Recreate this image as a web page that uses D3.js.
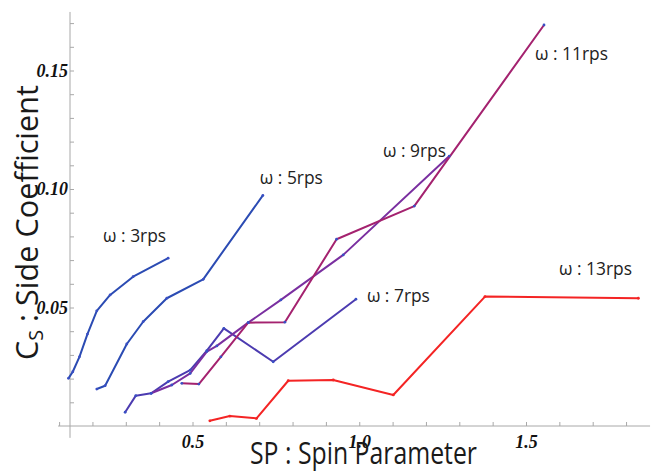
<!DOCTYPE html>
<html>
<head>
<meta charset="utf-8">
<script src="https://cdn.jsdelivr.net/npm/d3@7"></script>
<style>
  html, body { margin: 0; padding: 0; background: #fff; }
  svg { display: block; }
</style>
</head>
<body>
<div id="chart"></div>
<script>
// ── Side coefficient vs spin parameter, one line per spin rate ───────────────

// spin rate 3 rps
const sp3  = [0.128, 0.141, 0.161, 0.185, 0.213, 0.253, 0.322, 0.427];
const cs3  = [0.0201, 0.0229, 0.0292, 0.0388, 0.0486, 0.0553, 0.0630, 0.0708];
// spin rate 5 rps
const sp5  = [0.213, 0.238, 0.303, 0.352, 0.423, 0.532, 0.711];
const cs5  = [0.0156, 0.0170, 0.0346, 0.0440, 0.0539, 0.0619, 0.0973];
// spin rate 7 rps
const sp7  = [0.298, 0.330, 0.376, 0.427, 0.493, 0.543, 0.594, 0.742, 0.990];
const cs7  = [0.0058, 0.0128, 0.0138, 0.0187, 0.0236, 0.0318, 0.0412, 0.0271, 0.0535];
// spin rate 9 rps
const sp9  = [0.376, 0.438, 0.493, 0.543, 0.573, 0.667, 0.765, 0.952, 1.270];
const cs9  = [0.0138, 0.0173, 0.0222, 0.0314, 0.0338, 0.0436, 0.0532, 0.0722, 0.1139];
// spin rate 11 rps
const sp11 = [0.468, 0.519, 0.585, 0.667, 0.777, 0.932, 1.165, 1.554];
const cs11 = [0.0180, 0.0177, 0.0292, 0.0436, 0.0438, 0.0788, 0.0928, 0.1692];
// spin rate 13 rps
const sp13 = [0.552, 0.612, 0.692, 0.787, 0.922, 1.102, 1.377, 1.837];
const cs13 = [0.0022, 0.0042, 0.0032, 0.0191, 0.0194, 0.0131, 0.0546, 0.0539];

const seriesNames  = ["ω : 3rps", "ω : 5rps", "ω : 7rps", "ω : 9rps", "ω : 11rps", "ω : 13rps"];
// label anchor for each series, in data units
const labelSP = [0.232, 0.702, 1.023, 1.071, 1.527, 1.599];
const labelCS = [0.0776, 0.1021, 0.0523, 0.1135, 0.1544, 0.0637];

const xMajor = [0.5, 1.0, 1.5];
const xTicks = [0.1, 0.2, 0.3, 0.4, 0.5, 0.6, 0.7, 0.8, 0.9, 1.0, 1.1, 1.2, 1.3, 1.4, 1.5, 1.6, 1.7, 1.8];
const yMajor = [0.05, 0.10, 0.15];
const yTicks = [0.01, 0.02, 0.03, 0.04, 0.05, 0.06, 0.07, 0.08, 0.09, 0.10,
                0.11, 0.12, 0.13, 0.14, 0.15, 0.16, 0.17];

const xTitle = "SP : Spin Parameter";

(function () {
  "use strict";

  const W = 654, H = 472;
  const COLORS = ["#2b4bb3", "#2b4bb3", "#4c3bb0", "#7a2fa0", "#a4226f", "#f42424"];
  const DOT = "#3a4fc4";

  const series = [
    [sp3, cs3], [sp5, cs5], [sp7, cs7], [sp9, cs9], [sp11, cs11], [sp13, cs13]
  ].map(function (p, i) {
    return {
      name: seriesNames[i],
      color: COLORS[i],
      pts: p[0].map(function (x, j) { return [x, p[1][j]]; })
    };
  });

  const x = d3.scaleLinear().domain([0.5, 1.5]).range([192.5, 526]);
  const y = d3.scaleLinear().domain([0, 0.05]).range([426, 307.5]);
  const xOrigin = 0.1327;           // where the vertical axis crosses

  const svg = d3.select("#chart").append("svg")
    .attr("width", W).attr("height", H)
    .attr("viewBox", `0 0 ${W} ${H}`);

  const AXIS_COL = "#a8a8a8";
  const TICK_FONT = "'Liberation Serif', 'DejaVu Serif', serif";

  // ── Axes ──────────────────────────────────────────────────────────────────
  const fmtX = d => xMajor.some(m => Math.abs(m - d) < 1e-9) ? d.toFixed(1) : "";
  const fmtY = d => yMajor.some(m => Math.abs(m - d) < 1e-9) ? d.toFixed(2) : "";

  const gx = svg.append("g")
    .attr("transform", `translate(0,${y(0)})`)
    .call(d3.axisBottom(x).tickValues(xTicks).tickSize(-4).tickSizeOuter(0)
      .tickPadding(9).tickFormat(fmtX));
  gx.select(".domain").remove();
  gx.append("line")
    .attr("x1", x(0.097)).attr("x2", x(1.872))
    .attr("stroke", AXIS_COL).attr("stroke-width", 1);

  const gy = svg.append("g")
    .attr("transform", `translate(${x(xOrigin)},0)`)
    .call(d3.axisLeft(y).tickValues(yTicks).tickSize(-4).tickSizeOuter(0)
      .tickPadding(2).tickFormat(fmtY));
  gy.select(".domain").remove();
  gy.append("line")
    .attr("y1", y(-0.005)).attr("y2", y(0.1747))
    .attr("stroke", AXIS_COL).attr("stroke-width", 1);

  [gx, gy].forEach(function (g) {
    g.selectAll(".tick line").attr("stroke", AXIS_COL);
    g.selectAll(".tick text")
      .attr("fill", "#111")
      .attr("font-family", TICK_FONT)
      .attr("font-style", "italic")
      .attr("font-weight", "bold")
      .attr("font-size", 18);
  });

  // ── Lines ─────────────────────────────────────────────────────────────────
  const line = d3.line().x(d => x(d[0])).y(d => y(d[1]));

  series.forEach(function (s) {
    svg.append("path")
      .datum(s.pts)
      .attr("d", line)
      .attr("fill", "none")
      .attr("stroke", s.color)
      .attr("stroke-width", 2)
      .attr("stroke-linejoin", "round");
  });

  series.forEach(function (s) {
    svg.append("g").selectAll("circle")
      .data(s.pts)
      .join("circle")
      .attr("cx", d => x(d[0]))
      .attr("cy", d => y(d[1]))
      .attr("r", 1.4)
      .attr("fill", s.color === COLORS[5] ? s.color : DOT);
  });

  // ── Series labels ─────────────────────────────────────────────────────────
  const LABEL_FONT = "'Open Sans', 'Noto Sans', sans-serif";
  series.forEach(function (s, i) {
    svg.append("text")
      .attr("x", x(labelSP[i]))
      .attr("y", y(labelCS[i]))
      .attr("font-family", LABEL_FONT)
      .attr("font-size", 18)
      .attr("fill", "#222")
      .attr("lengthAdjust", "spacingAndGlyphs")
      .attr("textLength", s.name.length > 8 ? 73 : 63)
      .text(s.name);
  });

  // ── Axis titles ───────────────────────────────────────────────────────────
  svg.append("text")
    .attr("x", 250).attr("y", 464)
    .attr("font-family", LABEL_FONT)
    .attr("font-size", 31)
    .attr("fill", "#1a1a1a")
    .attr("lengthAdjust", "spacingAndGlyphs")
    .attr("textLength", 227)
    .text(xTitle);

  const yt = svg.append("text")
    .attr("transform", "translate(38,360) rotate(-90)")
    .attr("font-family", LABEL_FONT)
    .attr("font-size", 31)
    .attr("fill", "#1a1a1a")
    .attr("lengthAdjust", "spacingAndGlyphs")
    .attr("textLength", 275);
  yt.append("tspan").text("C");
  yt.append("tspan").attr("font-size", 20).attr("dy", 5).text("S");
  yt.append("tspan").attr("dy", -5).text(" : Side Coefficient");
})();
</script>
</body>
</html>
